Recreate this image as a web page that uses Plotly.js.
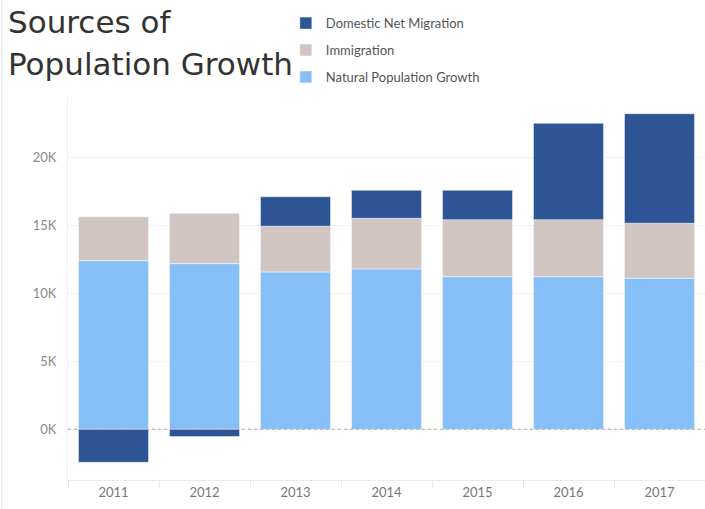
<!DOCTYPE html>
<html>
<head>
<meta charset="utf-8">
<script src="https://cdn.plot.ly/plotly-3.0.1.min.js"></script>
<style>
html,body{margin:0;padding:0;background:#fff;}
#chart{width:705px;height:509px;}
</style>
</head>
<body>
<div id="chart"></div>
<script>
const years = ['2011', '2012', '2013', '2014', '2015', '2016', '2017'];
// values in thousands
const naturalGrowth = [12.40, 12.18, 11.57, 11.79, 11.22, 11.22, 11.10];
const immigration = [3.23, 3.70, 3.36, 3.72, 4.19, 4.19, 4.05];
const domesticNet = [-2.43, -0.54, 2.17, 2.06, 2.16, 7.09, 8.05];
const yTicks = [0, 5, 10, 15, 20];

const FONT = 'Lato, "Open Sans", sans-serif';
const TFONT = '"DejaVu Sans", "Open Sans", sans-serif';
const edge = {color: 'rgba(255,255,255,0.6)', width: 0.8};

const traces = [
  {type: 'bar', name: 'Natural Population Growth', x: years, y: naturalGrowth, legendgroup: 'n', legendrank: 3,
   marker: {color: '#86bff8', line: edge}, hoverinfo: 'x+y+name'},
  {type: 'bar', name: 'Immigration', x: years, y: immigration, legendgroup: 'i', legendrank: 2,
   marker: {color: '#d0c5c2', line: edge}, hoverinfo: 'x+y+name'},
  {type: 'bar', name: 'Domestic Net Migration', x: years, y: domesticNet, legendgroup: 'd', legendrank: 1,
   marker: {color: '#2d5595', line: edge}, hoverinfo: 'x+y+name'}
];

const layout = {
  width: 705, height: 509,
  margin: {l: 68, r: 0, t: 97, b: 29},
  paper_bgcolor: '#fff', plot_bgcolor: '#fff',
  barmode: 'relative',
  bargap: 0.23,
  font: {family: FONT, color: '#666'},
  xaxis: {
    type: 'category',
    tickfont: {size: 13, color: '#777', family: FONT},
    ticks: 'outside', ticklen: 7, tickcolor: '#e6e6e6', tickson: 'boundaries',
    showgrid: false, showline: true, linecolor: '#ebebeb', linewidth: 1,
    zeroline: false, fixedrange: true
  },
  yaxis: {
    range: [-3.73, 24.43],
    tickvals: yTicks,
    ticktext: yTicks.map(v => v + 'K'),
    tickfont: {size: 13, color: '#888', family: FONT},
    ticks: '', ticklabelstandoff: 8,
    showgrid: true, gridcolor: '#f2f2f2', gridwidth: 1,
    zeroline: false, showline: true, linecolor: '#f0f0f0', fixedrange: true
  },
  shapes: [
    {type: 'line', xref: 'paper', yref: 'y', x0: 0, x1: 1, y0: 0, y1: 0,
     line: {color: '#aaaaaa', width: 1, dash: 'dot'}, layer: 'above'},
    {type: 'line', xref: 'paper', yref: 'paper', x0: -0.104, x1: -0.104, y0: -0.08, y1: 1.26,
     line: {color: '#e0e0e0', width: 1}}
  ],
  annotations: [
    {text: 'Sources of', xref: 'paper', yref: 'paper', x: -0.097, y: 1.196,
     xanchor: 'left', yanchor: 'middle', showarrow: false,
     font: {size: 31, color: '#333333', family: TFONT}},
    {text: 'Population Growth', xref: 'paper', yref: 'paper', x: -0.097, y: 1.086,
     xanchor: 'left', yanchor: 'middle', showarrow: false,
     font: {size: 31, color: '#333333', family: TFONT}}
  ],
  legend: {
    x: 0.342, y: 1.232, xanchor: 'left', yanchor: 'top',
    traceorder: 'grouped',
    font: {size: 13, color: '#555', family: FONT},
    itemwidth: 30, tracegroupgap: 7,
    bgcolor: 'rgba(0,0,0,0)'
  },
  showlegend: true
};

Plotly.newPlot('chart', traces, layout, {displayModeBar: false, staticPlot: true});
</script>
</body>
</html>
